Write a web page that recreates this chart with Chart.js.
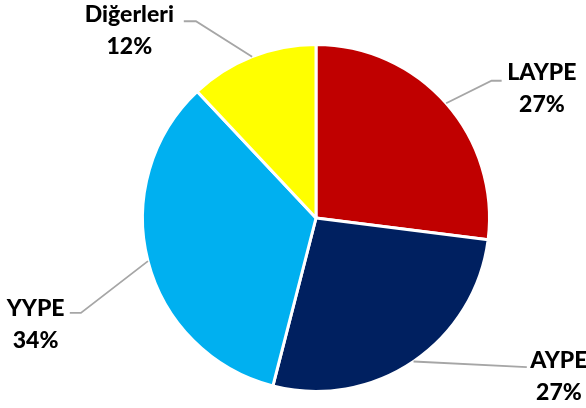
<!DOCTYPE html>
<html>
<head>
<meta charset="utf-8">
<script src="https://cdn.jsdelivr.net/npm/chart.js@4.4.1/dist/chart.umd.min.js"></script>
<style>
html,body{margin:0;padding:0;background:#fff;}
#wrap{width:586px;height:408px;position:relative;}
</style>
</head>
<body>
<div id="wrap"><canvas id="c" width="586" height="408"></canvas></div>
<script>
const categories = ["LAYPE", "AYPE", "YYPE", "Diğerleri"];
const shares = [27, 27, 34, 12];
const sliceColors = ["#C00000", "#002060", "#00B0F0", "#FFFF00"];

// label placement relative to pie centre, in units of radius
const labelLayout = [
  {elbow:[1.012,-0.791], end:[1.070,-0.791], text:[1.302,-0.84]},
  {elbow:[1.215,0.860], end:[1.215,0.860], text:[1.400,0.82]},
  {elbow:[-1.355,0.547], end:[-1.419,0.547], text:[-1.616,0.52]},
  {elbow:[-0.692,-1.134], end:[-0.762,-1.134], text:[-1.076,-1.17]}
];

const leaderPlugin = {
  id: 'leaders',
  afterDatasetsDraw(chart) {
    const ctx = chart.ctx;
    const meta = chart.getDatasetMeta(0);
    ctx.save();
    meta.data.forEach((arc, i) => {
      const p = arc.getProps(['x','y','startAngle','endAngle','outerRadius'], true);
      const mid = (p.startAngle + p.endAngle) / 2;
      const r = p.outerRadius;
      const sx = p.x + Math.cos(mid) * r;
      const sy = p.y + Math.sin(mid) * r;
      const L = labelLayout[i];
      ctx.strokeStyle = '#A6A6A6';
      ctx.lineWidth = 1.8;
      ctx.beginPath();
      ctx.moveTo(sx, sy);
      ctx.lineTo(p.x + L.elbow[0]*r, p.y + L.elbow[1]*r);
      ctx.lineTo(p.x + L.end[0]*r, p.y + L.end[1]*r);
      ctx.stroke();
      const tx = p.x + L.text[0]*r, ty = p.y + L.text[1]*r;
      ctx.fillStyle = '#000';
      ctx.font = '900 23px Lato';
      ctx.textAlign = 'center';
      ctx.textBaseline = 'middle';
      const total = shares.reduce((a,b)=>a+b,0);
      ctx.fillText(categories[i], tx, ty);
      ctx.fillText(Math.round(shares[i]/total*100) + '%', tx, ty + 32);
    });
    ctx.restore();
  }
};

new Chart(document.getElementById('c'), {
  type: 'pie',
  data: {
    labels: categories,
    datasets: [{
      data: shares,
      backgroundColor: sliceColors,
      borderColor: '#FFFFFF',
      borderWidth: 3
    }]
  },
  options: {
    responsive: false,
    animation: false,
    layout: {padding: {top: 43, bottom: 15, left: 141, right: 95}},
    plugins: {legend: {display: false}, tooltip: {enabled: false}}
  },
  plugins: [leaderPlugin]
});
</script>
</body>
</html>
